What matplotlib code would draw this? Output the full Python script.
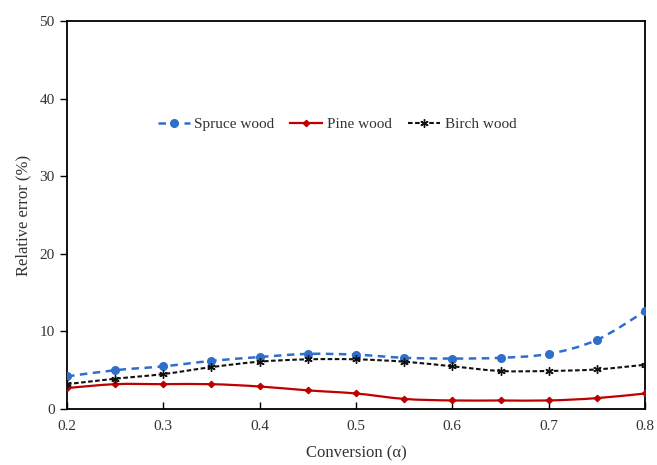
import matplotlib.pyplot as plt
import numpy as np
from matplotlib.lines import Line2D
from matplotlib.patches import PathPatch
from matplotlib.path import Path

plt.rcParams["font.family"] = ["Liberation Serif", "DejaVu Serif"]

conversion = [0.2, 0.25, 0.3, 0.35, 0.4, 0.45, 0.5, 0.55, 0.6, 0.65, 0.7, 0.75, 0.8]
spruce = [4.2, 5.0, 5.5, 6.2, 6.7, 7.1, 7.0, 6.6, 6.5, 6.6, 7.1, 8.9, 12.6]
pine = [2.7, 3.2, 3.2, 3.2, 2.9, 2.4, 2.0, 1.3, 1.1, 1.1, 1.1, 1.4, 2.0]
birch = [3.2, 3.9, 4.5, 5.4, 6.1, 6.4, 6.4, 6.1, 5.5, 4.9, 4.9, 5.1, 5.7]

x_ticks = [0.2, 0.3, 0.4, 0.5, 0.6, 0.7, 0.8]
y_ticks = [0, 10, 20, 30, 40, 50]

TEXT_COLOR = "#333333"


def smooth_path(xs, ys):
    # Excel-like smoothed line: Catmull-Rom segments as cubic Beziers
    pts = np.column_stack([xs, ys]).astype(float)
    verts = [pts[0]]
    codes = [Path.MOVETO]
    n = len(pts)
    for i in range(n - 1):
        p0 = pts[max(i - 1, 0)]
        p1 = pts[i]
        p2 = pts[i + 1]
        p3 = pts[min(i + 2, n - 1)]
        c1 = p1 + (p2 - p0) / 6.0
        c2 = p2 - (p3 - p1) / 6.0
        verts.extend([c1, c2, p2])
        codes.extend([Path.CURVE4] * 3)
    return Path(verts, codes)


series = [
    ("Spruce wood", spruce, dict(color="#2F6FCA", linestyle=(0, (3.0, 2.2)), linewidth=1.8,
                                 marker="o", markersize=5.5)),
    ("Pine wood", pine, dict(color="#C00000", linestyle="-", linewidth=1.6,
                             marker="D", markersize=3.2)),
    ("Birch wood", birch, dict(color="#111111", linestyle=(0, (2.2, 1.2)), linewidth=1.5,
                               marker=(6, 2, 0), markersize=6)),
]

fig = plt.figure(figsize=(6.57, 4.65), dpi=100)
ax = fig.add_axes([67 / 657, 56 / 465, 578 / 657, 388 / 465])

handles = []
for name, values, st in series:
    ax.add_patch(PathPatch(smooth_path(conversion, values), facecolor="none",
                           edgecolor=st["color"], linestyle=st["linestyle"],
                           linewidth=st["linewidth"], zorder=2))
    ax.plot(conversion, values, linestyle="none", marker=st["marker"],
            markersize=st["markersize"], color=st["color"],
            markeredgecolor=st["color"], markeredgewidth=1.0, zorder=3)
    handles.append(Line2D([], [], color=st["color"], linestyle=st["linestyle"],
                          linewidth=st["linewidth"], marker=st["marker"],
                          markersize=st["markersize"], markeredgewidth=1.0, label=name))

ax.set_xlim(0.2, 0.8)
ax.set_ylim(0, 50)
ax.set_xticks(x_ticks)
ax.set_xticklabels([f"{v:.1f}" for v in x_ticks])
ax.set_yticks(y_ticks)

ax.tick_params(axis="x", direction="in", length=5, width=1, labelsize=11,
               labelcolor=TEXT_COLOR, pad=8)
ax.tick_params(axis="y", direction="out", length=5, width=1, labelsize=11,
               labelcolor=TEXT_COLOR, pad=4)
for spine in ax.spines.values():
    spine.set_linewidth(1.3)
    spine.set_color("black")

ax.set_xlabel("Conversion (\u03b1)", fontsize=12, color=TEXT_COLOR, labelpad=9)
ax.set_ylabel("Relative error (%)", fontsize=12, color=TEXT_COLOR, labelpad=6)

ax.legend(handles=handles, loc="center", bbox_to_anchor=(0.467, 0.734), ncol=3,
          frameon=False, fontsize=11, handlelength=2.1, columnspacing=1.05,
          handletextpad=0.3, labelcolor=TEXT_COLOR)

fig.savefig("out.png", dpi=100)
